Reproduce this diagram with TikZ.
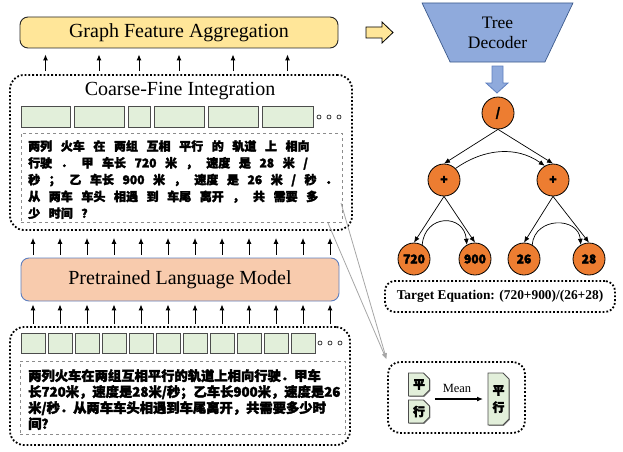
\documentclass[tikz,border=0pt]{standalone}
\usepackage{fontspec}
\setmainfont{Liberation Serif}
\newfontfamily\cjk{Noto Sans CJK SC}[BoldFeatures={FakeBold=2.5}]
\usetikzlibrary{arrows.meta,positioning,shapes.misc,shapes.geometric,shadows}

\definecolor{aggyellow}{HTML}{FFE699}
\definecolor{plmorange}{HTML}{F8CBAD}
\definecolor{plmblue}{HTML}{5E7FBF}
\definecolor{tokgreen}{HTML}{E2EFDA}
\definecolor{decblue}{HTML}{8FAADC}
\definecolor{decline}{HTML}{3C5A8C}
\definecolor{opnode}{HTML}{ED7D31}

\newcommand{\widesp}{\spaceskip=8.6pt\relax}

\tikzset{
  layer/.style={draw, rounded corners=8pt, line width=0.9pt, font=\fontsize{20}{22}\selectfont},
  dotbox/.style={draw, dotted, line width=1.8pt, rounded corners=14pt},
  dashbox/.style={draw=black!45, dashed, line width=1pt},
  tok/.style={chamfered rectangle, chamfered rectangle corners={north west, north east},
    chamfered rectangle xsep=3.5pt, chamfered rectangle ysep=3.5pt, fill=tokgreen,
    draw=black!70, line width=0.9pt, inner sep=0pt, minimum height=21pt,
    drop shadow={shadow xshift=0.8pt, shadow yshift=-0.8pt, opacity=0.7, fill=black!70}},
  sidetok/.style={chamfered rectangle, chamfered rectangle corners={north east, south east},
    chamfered rectangle xsep=3pt, chamfered rectangle ysep=3pt, fill=tokgreen,
    draw=black!70, line width=0.9pt, inner sep=0pt, minimum width=21pt,
    drop shadow={shadow xshift=0.8pt, shadow yshift=-0.8pt, opacity=0.7, fill=black!70},
    font=\cjk\bfseries\fontsize{12}{17}\selectfont, align=center},
  op/.style={circle, draw, line width=0.8pt, fill=opnode, minimum size=32pt, inner sep=0pt,
    font=\cjk\bfseries\fontsize{12}{12}\selectfont},
  arr/.style={-{Latex[length=6pt,width=5pt]}, line width=1pt},
  zh/.style={anchor=north west, inner sep=0pt, align=left}
}

\begin{document}
\begin{tikzpicture}[x=1pt, y=1pt]
  \useasboundingbox (0,0) rectangle (623,451);

  % left column
  \node[layer, fill=aggyellow, draw=black!85, minimum width=318pt, minimum height=31pt] (gfa) at (179,418.5) {Graph Feature Aggregation};

  \node[dotbox, minimum width=342pt, minimum height=155pt] (cfi) at (181,298.5) {};
  \node[font=\fontsize{20}{22}\selectfont] (cfititle) at (180,360) {Coarse-Fine Integration};
  \foreach \l/\r [count=\i] in {21/70, 74/124, 128/150, 154/204, 208/258, 262/313}
    \node[tok, minimum width=\r-\l] (ct\i) at ({(\l+\r)/2},334.5) {};
  \foreach \x in {319,329,339}
    \draw[line width=0.6pt] (\x,334) circle (2pt);
  \node[dashbox, minimum width=321pt, minimum height=89pt] (cbox) at (181.5,273.5) {};
  \node[zh, font=\cjk\bfseries\fontsize{12}{16.8}\selectfont] (ctxt) at (28,311)
    {\widesp 两列 火车 在 两组 互相 平行 的 轨道 上 相向\\
     \widesp 行驶 ． 甲 车长 720 米 ， 速度 是 28 米 /\\
     \widesp 秒 ； 乙 车长 900 米 ， 速度 是 26 米 / 秒 ．\\
     \widesp 从 两车 车头 相遇 到 车尾 离开 ， 共 需要 多\\
     \widesp 少 时间 ？};

  \node[layer, fill=plmorange, draw=plmblue, minimum width=318pt, minimum height=43pt] (plm) at (180,171.5) {Pretrained Language Model};

  \node[dotbox, minimum width=340pt, minimum height=118pt] (btm) at (180,65) {};
  \foreach \i in {1,...,11}
    \node[tok, minimum width=24pt, minimum height=20pt] (bt\i) at ({33+27*(\i-1)},108) {};
  \foreach \x in {320,330,340}
    \draw[line width=0.6pt] (\x,108) circle (2pt);
  \node[dashbox, minimum width=325pt, minimum height=73pt] (bbox) at (182.5,53.5) {};
  \node[zh, font=\cjk\bfseries\fontsize{13.3}{16}\selectfont] (btxt) at (28,82)
    {两列火车在两组互相平行的轨道上相向行驶．甲车\\
     长720米，速度是28米/秒；乙车长900米，速度是26\\
     米/秒．从两车车头相遇到车尾离开，共需要多少时\\
     间？};

  % arrows between layers
  \foreach \i in {1,...,6}
    \draw[arr, shorten <=3pt, shorten >=6pt] (ct\i.north |- cfi.north) -- (ct\i.north |- gfa.south);
  \foreach \x in {33,60,...,330} {
    \draw[arr, shorten <=3pt, shorten >=7pt] (\x,0 |- plm.north) -- (\x,0 |- cfi.south);
    \draw[arr, shorten <=2pt, shorten >=3pt] (\x,0 |- btm.north) -- (\x,0 |- plm.south);
  }

  % decoder
  \draw[fill=aggyellow, line width=0.8pt] (366,413) -- (382,413) -- (382,408) -- (393,418.5)
    -- (382,429) -- (382,424) -- (366,424) -- cycle;
  \node[trapezium, shape border rotate=180, trapezium stretches=true, trapezium left angle=63,
    trapezium right angle=63, minimum width=151pt, minimum height=59pt, fill=decblue, draw=decline,
    line width=0.7pt, align=center, font=\fontsize{17.5}{20}\selectfont] (dec) at (497.5,418.5) {Tree\\Decoder};
  \draw[fill=decblue, draw=plmblue, line width=0.8pt] (492,385) -- (503,385) -- (503,368) -- (508,368)
    -- (497,358) -- (486,368) -- (492,368) -- cycle;

  % tree
  \node[op] (div) at (498,338) {/};
  \node[op] (pl) at (444,271) {+};
  \node[op] (pr) at (553,271) {+};
  \node[op] (n720) at (414,192) {720};
  \node[op] (n900) at (475,192) {900};
  \node[op] (n26) at (524,192) {26};
  \node[op] (n28) at (589,192) {28};
  \draw[arr, line width=0.7pt] (div.south) -- (pl.north);
  \draw[arr, line width=0.7pt] (div.south) -- (pr.north);
  \draw[arr, line width=0.7pt] (pl.south) -- (n720.north);
  \draw[arr, line width=0.7pt] (pl.south) -- (n900.north);
  \draw[arr, line width=0.7pt] (pr.south) -- (n26.north);
  \draw[arr, line width=0.7pt] (pr.south) -- (n28.north);
  \draw[arr, line width=0.7pt] (pl.45) to[out=35, in=145] (pr.120);
  \draw[arr, line width=0.7pt] (n720.60) to[out=85, in=95, looseness=1.8] (n900.120);
  \draw[arr, line width=0.7pt] (n26.60) to[out=85, in=95, looseness=1.5] (n28.120);

  \node[dotbox, rounded corners=10pt, minimum width=230pt, minimum height=31pt,
    font=\bfseries\fontsize{13.4}{15}\selectfont] (target) at (500,154.5) {Target Equation: (720+900)/(26+28)};

  % mean pooling
  \node[dotbox, rounded corners=12pt, minimum width=137pt, minimum height=71pt] (mean) at (456.5,53.5) {};
  \node[sidetok, minimum height=23pt] (tp) at (419,66.5) {平};
  \node[sidetok, minimum height=23pt] (th) at (419,39.5) {行};
  \node[sidetok, minimum height=52pt] (tph) at (498.5,52) {平\\行};
  \draw[-{Latex[length=6pt,width=5pt]}, line width=1.2pt] (tp.east |- tph.west) ++(5,0) coordinate (ma) -- (tph.west -| 483,0) coordinate (mb);
  \node[font=\fontsize{12.5}{14}\selectfont] (meanlbl) at (457,63) {Mean};

  \coordinate (za) at (341,248);
  \coordinate (zb) at (328,228);
  \draw[black!35, line width=0.8pt, -{Latex[length=6pt]}, shorten >=2pt] (za) -- (mean.north west);
  \draw[black!35, line width=0.8pt, -{Latex[length=6pt]}, shorten >=2pt] (zb) -- (mean.north west);
\end{tikzpicture}
\end{document}
